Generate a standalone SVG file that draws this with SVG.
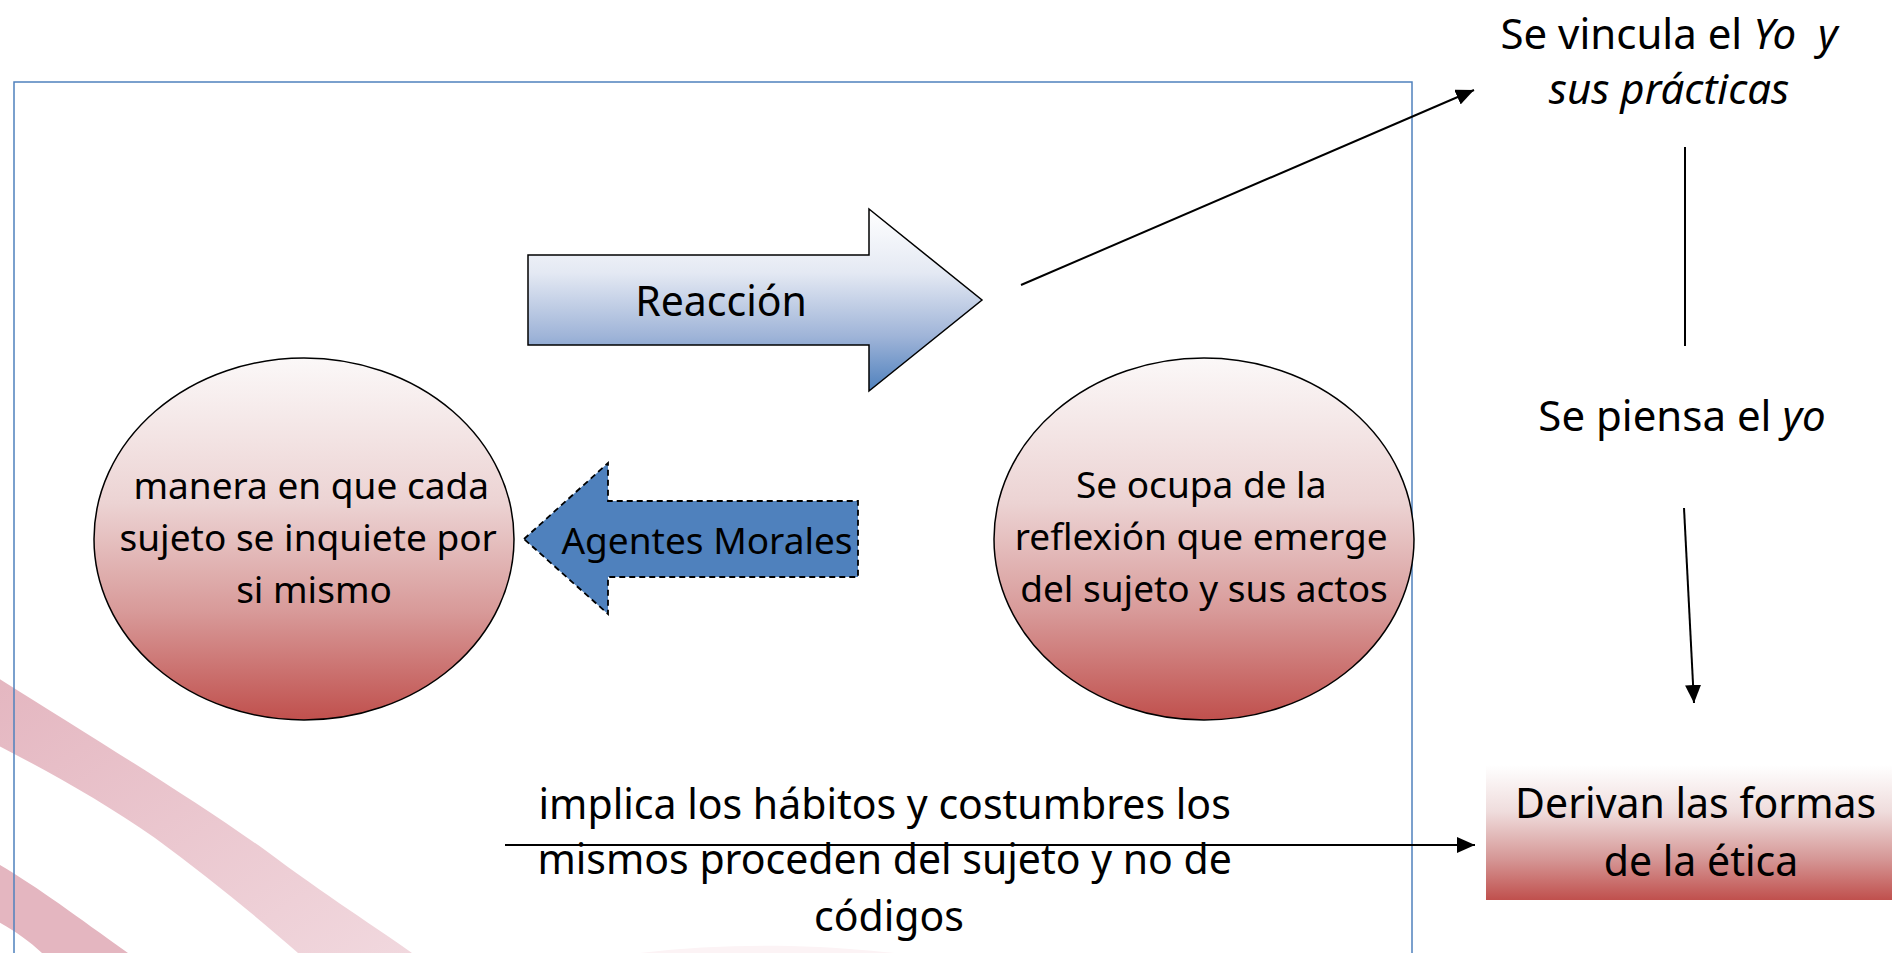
<svg xmlns="http://www.w3.org/2000/svg" width="1892" height="953" viewBox="0 0 1892 953">
  <defs>
    <linearGradient id="gBlue" x1="0" y1="0" x2="0" y2="1">
      <stop offset="0" stop-color="#ffffff"/>
      <stop offset="0.35" stop-color="#e4e9f3"/>
      <stop offset="0.7" stop-color="#9fb4d8"/>
      <stop offset="1" stop-color="#4f81bd"/>
    </linearGradient>
    <linearGradient id="gRed" x1="0" y1="0" x2="0" y2="1">
      <stop offset="0" stop-color="#fbf8f8"/>
      <stop offset="0.4" stop-color="#ecd3d3"/>
      <stop offset="0.7" stop-color="#d89a99"/>
      <stop offset="1" stop-color="#c0504d"/>
    </linearGradient>
    <linearGradient id="gBox" x1="0" y1="0" x2="0" y2="1">
      <stop offset="0" stop-color="#ffffff"/>
      <stop offset="0.35" stop-color="#efdcdc"/>
      <stop offset="0.7" stop-color="#d59695"/>
      <stop offset="1" stop-color="#c0504d"/>
    </linearGradient>
    <linearGradient id="gBand" x1="0" y1="0" x2="1" y2="1">
      <stop offset="0" stop-color="#e4b6c0"/>
      <stop offset="1" stop-color="#f1d8de"/>
    </linearGradient>
    <marker id="arrow" markerUnits="userSpaceOnUse" markerWidth="20" markerHeight="16" refX="18" refY="8" orient="auto">
      <path d="M0,0 L18,8 L0,16 Z" fill="#000"/>
    </marker>
    <style>
      .t { font-family: "Noto Sans", "Open Sans", sans-serif; fill: #000; text-anchor: middle; }
      .i { font-style: italic; }
      .conn { stroke: #000; stroke-width: 2; fill: none; }
      .ell { fill: url(#gRed); stroke: #000; stroke-width: 1.5; }
    </style>
  </defs>

  <rect x="0" y="0" width="1892" height="953" fill="#ffffff"/>

  <g id="background">
    <path d="M-5,676 C80,730 180,790 265,850 C325,895 380,930 412,953 L298,953 C255,915 205,875 155,838 C105,803 50,772 -5,744 Z" fill="url(#gBand)"/>
    <path d="M-5,862 C35,885 75,915 128,953 L42,953 C28,940 14,930 -5,920 Z" fill="#e4b6c0"/>
    <path d="M640,953 C690,947 740,945 790,946 C830,947 865,950 895,953 Z" fill="#fcf3f5"/>
  </g>

  <g id="frame">
    <rect x="14" y="82" width="1398" height="900" fill="none" stroke="#4f81bd" stroke-width="1.5"/>
  </g>

  <g id="reaccion">
    <path d="M528,255 H869 V209 L982,300 L869,391 V345 H528 Z" fill="url(#gBlue)" stroke="#000" stroke-width="1.5"/>
    <text class="t" x="721" y="316" font-size="41">Reacción</text>
  </g>

  <g id="agentes">
    <path d="M524,539 L608,463 V501 H858 V577 H608 V614 Z" fill="#4f81bd" stroke="#000" stroke-width="1.8" stroke-dasharray="6 4"/>
    <text class="t" x="707" y="554" font-size="37">Agentes Morales</text>
  </g>

  <g id="ellipse-left">
    <ellipse class="ell" cx="304" cy="539" rx="210" ry="181"/>
    <text class="t" font-size="37">
      <tspan x="316" y="499">manera en que cada</tspan>
      <tspan x="313" y="551">sujeto se inquiete por</tspan>
      <tspan x="314" y="603">si mismo</tspan>
    </text>
  </g>

  <g id="ellipse-right">
    <ellipse class="ell" cx="1204" cy="539" rx="210" ry="181"/>
    <text class="t" font-size="37">
      <tspan x="1206" y="498">Se ocupa de la</tspan>
      <tspan x="1206" y="550">reflexión que emerge</tspan>
      <tspan x="1204" y="602">del sujeto y sus actos</tspan>
    </text>
  </g>

  <g id="vincula">
    <text class="t" x="1669" y="49" font-size="42" xml:space="preserve">Se vincula el <tspan class="i">Yo  y</tspan></text>
    <text class="t i" x="1669" y="104" font-size="42">sus prácticas</text>
  </g>

  <g id="piensa">
    <text class="t" x="1682" y="431" font-size="42">Se piensa el <tspan class="i">yo</tspan></text>
  </g>

  <g id="derivan">
    <rect x="1486" y="765" width="406" height="135" fill="url(#gBox)"/>
    <text class="t" font-size="41">
      <tspan x="1701" y="818">Derivan las formas</tspan>
      <tspan x="1701" y="876">de la ética</tspan>
    </text>
  </g>

  <g id="implica">
    <text class="t" font-size="41">
      <tspan x="890" y="819">implica los hábitos y costumbres los</tspan>
      <tspan x="890" y="874">mismos proceden del sujeto y no de</tspan>
      <tspan x="889" y="931">códigos</tspan>
    </text>
  </g>

  <g id="connectors">
    <line class="conn" x1="1021" y1="285" x2="1474" y2="90" marker-end="url(#arrow)"/>
    <line class="conn" x1="1685" y1="147" x2="1685" y2="346"/>
    <line class="conn" x1="1684" y1="508" x2="1694" y2="703" marker-end="url(#arrow)"/>
    <line class="conn" x1="505" y1="845" x2="1475" y2="845" marker-end="url(#arrow)"/>
  </g>
</svg>
